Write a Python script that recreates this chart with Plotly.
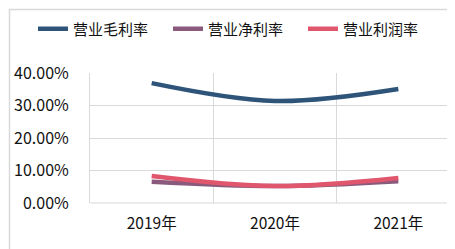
import plotly.graph_objects as go

years = ["2019年", "2020年", "2021年"]
gross_margin = [0.369, 0.314, 0.351]
net_margin = [0.065, 0.052, 0.067]
op_margin = [0.083, 0.052, 0.077]

W, H = 455, 249
PX0, PX1 = 82, 452   # plot area left/right in pixels
PY0, PY1 = 65, 195   # plot area top/bottom in pixels

fig = go.Figure()
for name, vals, col in [("营业毛利率", gross_margin, "#2E5579"),
                        ("营业净利率", net_margin, "#8A5A7C"),
                        ("营业利润率", op_margin, "#E0566C")]:
    fig.add_trace(go.Scatter(x=years, y=vals, name=name, mode="lines",
                             line=dict(color=col, width=4.5, shape="spline", smoothing=1.0)))

fig.update_layout(
    width=W, height=H,
    margin=dict(l=0, r=0, t=0, b=0),
    paper_bgcolor="white", plot_bgcolor="white",
    font=dict(family="Noto Sans CJK SC, Noto Sans, sans-serif", size=15, color="#111111"),
    legend=dict(orientation="h", x=0.5, xanchor="center", y=1 - 21 / H, yanchor="middle",
                font=dict(size=15), tracegroupgap=0, bgcolor="rgba(0,0,0,0)",
                entrywidth=90, entrywidthmode="pixels"),
    showlegend=True,
)
fig.update_xaxes(type="category", range=[-0.5, 2.5], tickson="boundaries", showgrid=True,
                 gridcolor="#D9D9D9", gridwidth=1, ticks="", showline=False, zeroline=False,
                 ticklabelstandoff=9, automargin=False, tickfont=dict(size=15.5),
                 domain=[PX0 / W, PX1 / W])
fig.update_yaxes(range=[0, 0.4], dtick=0.1, tickformat=".2%", showgrid=True,
                 gridcolor="#D9D9D9", gridwidth=1, zeroline=False, ticks="",
                 showline=True, linecolor="#D9D9D9", ticklabelstandoff=17, automargin=False,
                 tickfont=dict(size=16),
                 domain=[1 - PY1 / H, 1 - PY0 / H])
fig.add_shape(type="line", xref="paper", yref="paper", x0=PX0 / W, x1=PX1 / W,
              y0=1 - PY1 / H, y1=1 - PY1 / H, line=dict(color="#D9D9D9", width=1))
fig.add_shape(type="rect", xref="paper", yref="paper",
              x0=1.5 / W, x1=(W - 1.5) / W, y0=1.5 / H, y1=1 - 1.5 / H,
              line=dict(color="#D9D9D9", width=1.5))

fig.write_html("out.html")
